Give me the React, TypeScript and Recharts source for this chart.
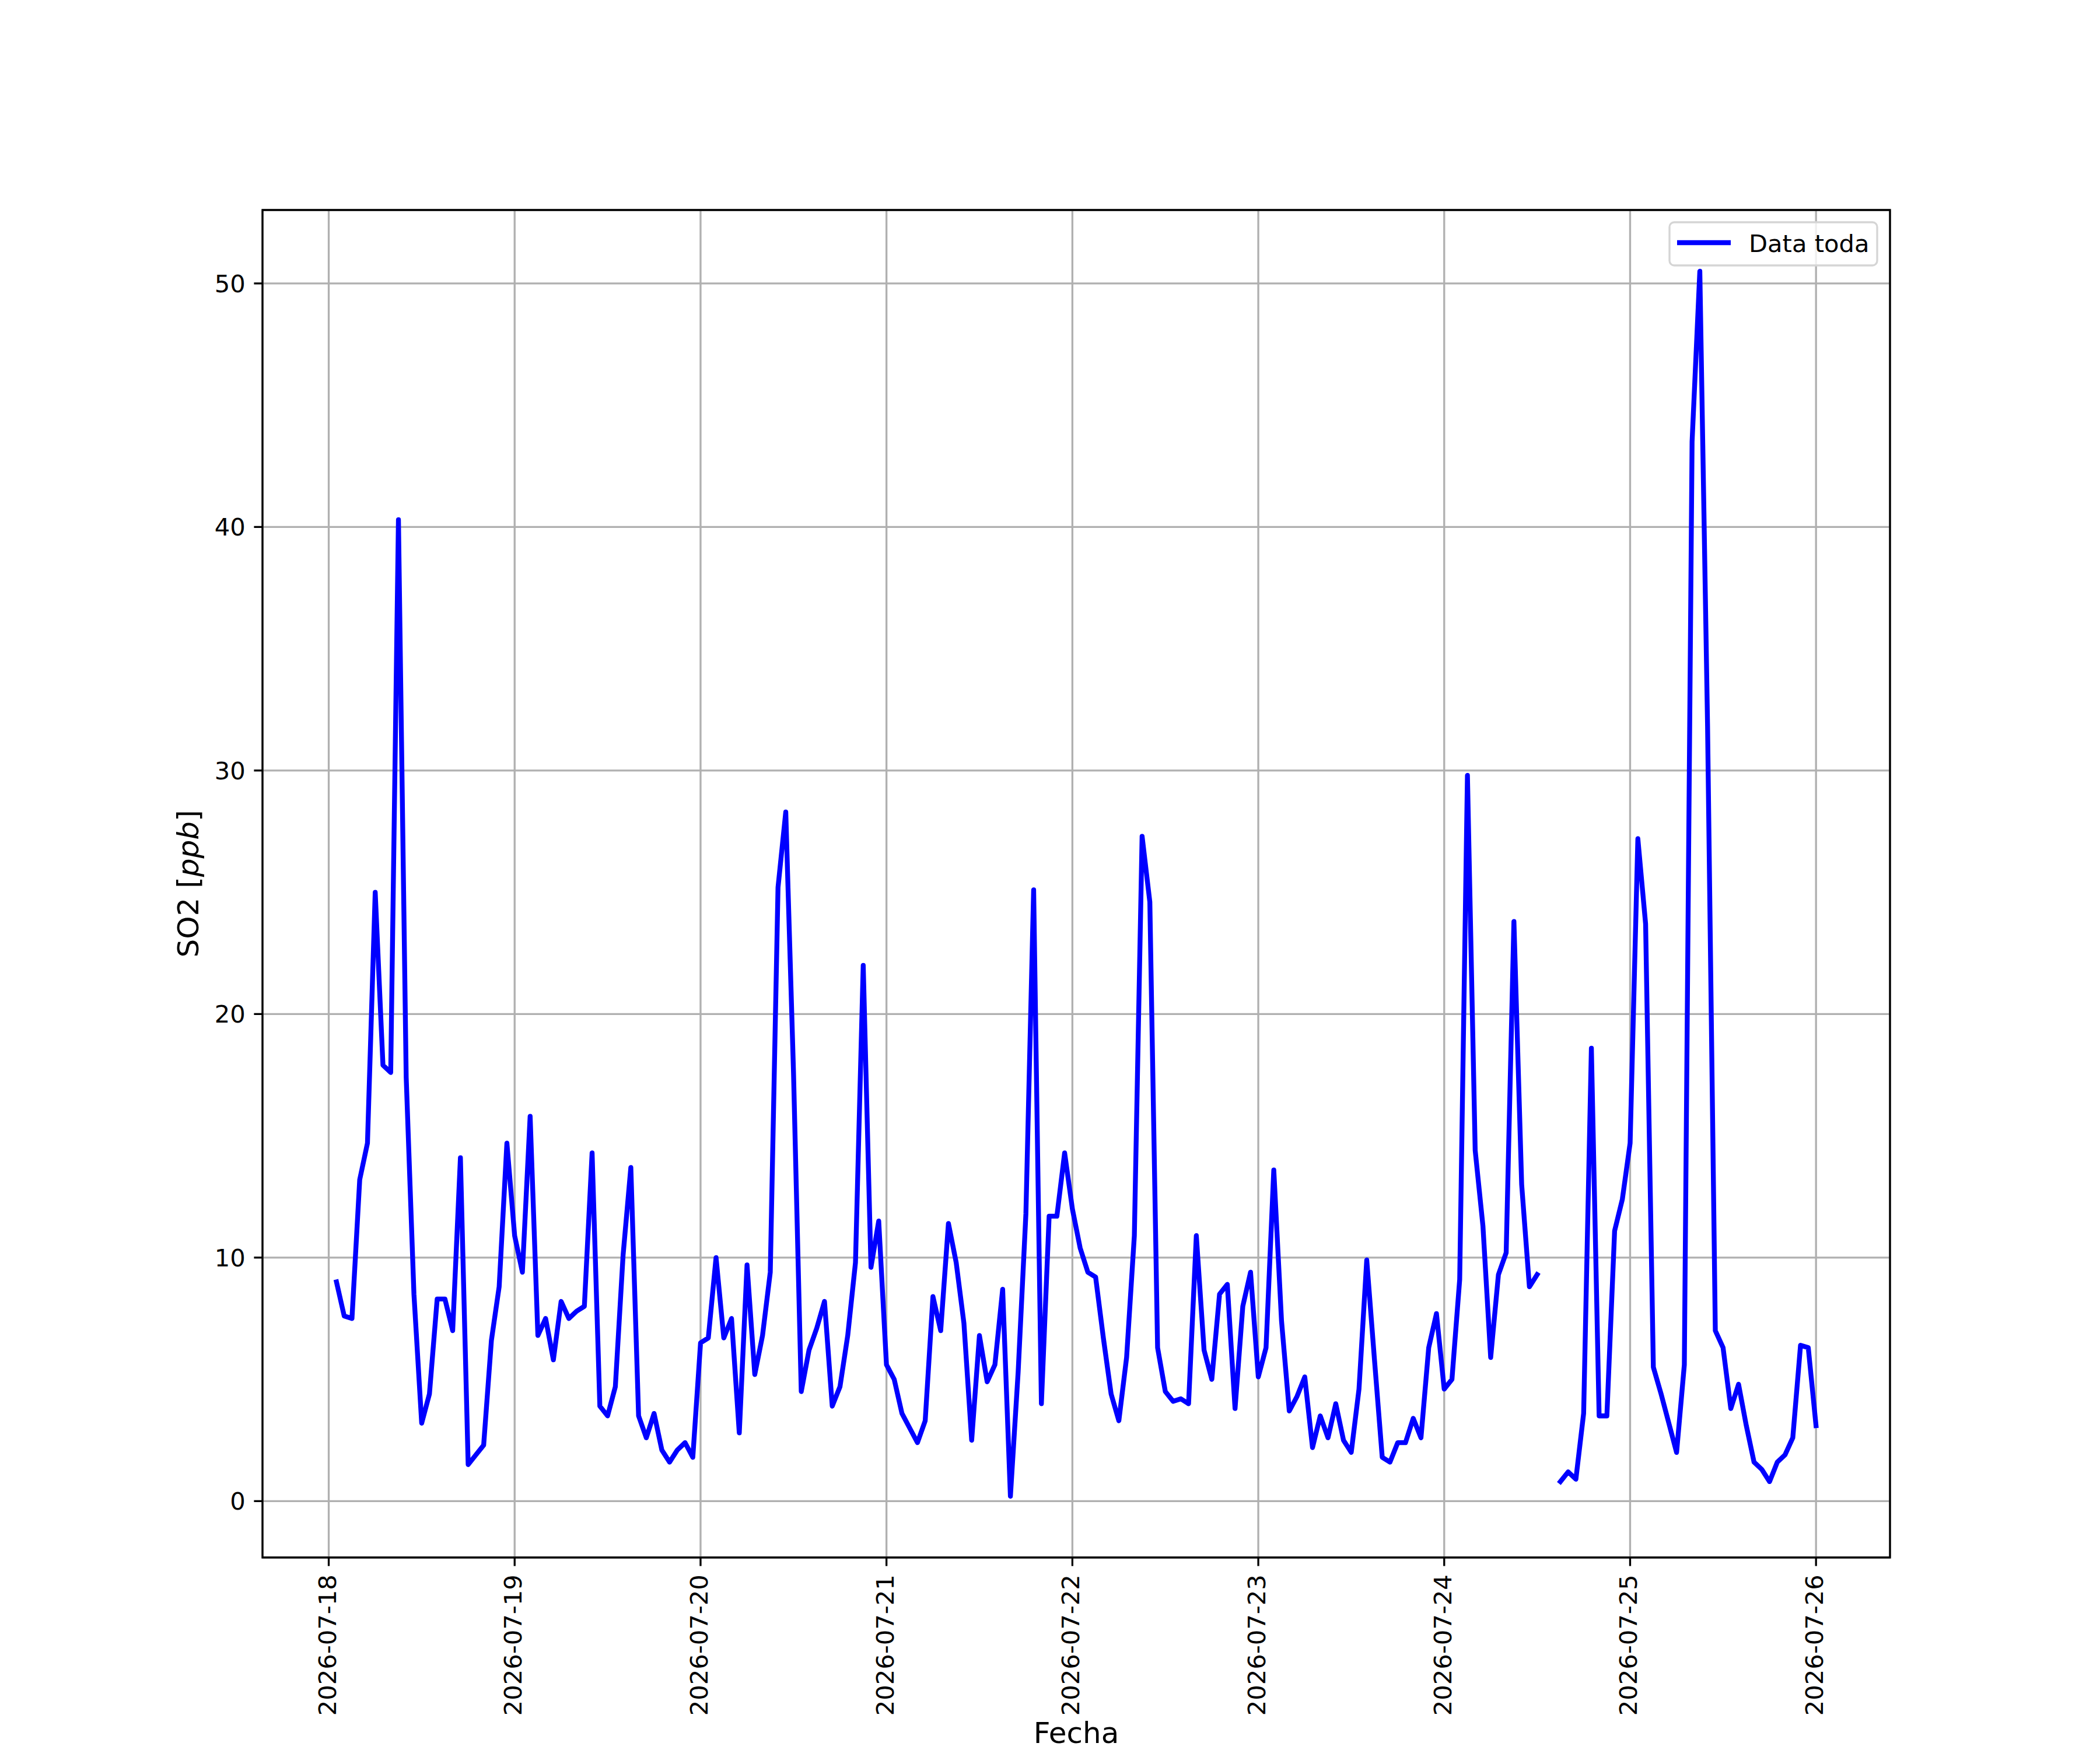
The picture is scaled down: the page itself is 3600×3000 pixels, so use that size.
import React from "react";
import {
  LineChart,
  Line,
  XAxis,
  YAxis,
  CartesianGrid,
  ReferenceArea,
  Legend,
  Label,
} from "recharts";

// Tick labels (one per day, at 00:00)
const dayLabels = [
  "2026-07-18",
  "2026-07-19",
  "2026-07-20",
  "2026-07-21",
  "2026-07-22",
  "2026-07-23",
  "2026-07-24",
  "2026-07-25",
  "2026-07-26",
];

// Hourly SO2 values [ppb]; each array holds hours 01:00 .. 24:00 (= next day 00:00)
const so2Jul18 = [9.0, 7.6, 7.5, 13.2, 14.7, 25.0, 17.9, 17.6, 40.3, 17.4, 8.5, 3.2, 4.4, 8.3, 8.3, 7.0, 14.1, 1.5, 1.9, 2.3, 6.6, 8.8, 14.7, 10.9];
const so2Jul19 = [9.4, 15.8, 6.8, 7.5, 5.8, 8.2, 7.5, 7.8, 8.0, 14.3, 3.9, 3.5, 4.7, 10.1, 13.7, 3.5, 2.6, 3.6, 2.1, 1.6, 2.1, 2.4, 1.8, 6.5];
const so2Jul20 = [6.7, 10.0, 6.7, 7.5, 2.8, 9.7, 5.2, 6.8, 9.4, 25.2, 28.3, 17.6, 4.5, 6.2, 7.1, 8.2, 3.9, 4.7, 6.8, 9.8, 22.0, 9.6, 11.5, 5.6];
const so2Jul21 = [5.0, 3.6, 3.0, 2.4, 3.3, 8.4, 7.0, 11.4, 9.8, 7.3, 2.5, 6.8, 4.9, 5.6, 8.7, 0.2, 5.3, 11.8, 25.1, 4.0, 11.7, 11.7, 14.3, 12.0];
const so2Jul22 = [10.4, 9.4, 9.2, 6.7, 4.4, 3.3, 5.9, 10.9, 27.3, 24.6, 6.3, 4.5, 4.1, 4.2, 4.0, 10.9, 6.2, 5.0, 8.5, 8.9, 3.8, 8.0, 9.4, 5.1];
const so2Jul23 = [6.3, 13.6, 7.4, 3.7, 4.3, 5.1, 2.2, 3.5, 2.6, 4.0, 2.5, 2.0, 4.6, 9.9, 5.8, 1.8, 1.6, 2.4, 2.4, 3.4, 2.6, 6.3, 7.7, 4.6];
const so2Jul24 = [5.0, 9.1, 29.8, 14.4, 11.3, 5.9, 9.3, 10.2, 23.8, 13.0, 8.8, 9.3, null, null, 0.8, 1.2, 0.9, 3.6, 18.6, 3.5, 3.5, 11.1, 12.4, 14.7];
const so2Jul25 = [27.2, 23.7, 5.5, 4.4, 3.2, 2.0, 5.6, 43.5, 50.5, 31.8, 7.0, 6.3, 3.8, 4.8, 3.1, 1.6, 1.3, 0.8, 1.6, 1.9, 2.6, 6.4, 6.3, 3.1];

const dailySeries = [so2Jul18, so2Jul19, so2Jul20, so2Jul21, so2Jul22, so2Jul23, so2Jul24, so2Jul25];

const yTicks = [0, 10, 20, 30, 40, 50];
const xTicks = dayLabels.map((_, i) => i * 24);

// hours since 2026-07-18 00:00
const data = dailySeries.flatMap((arr, d) =>
  arr.map((v, h) => ({ t: d * 24 + h + 1, v }))
);

const X_DOMAIN: [number, number] = [-8.55, 201.55];
const Y_DOMAIN: [number, number] = [-2.315, 53.015];

const FONT = "DejaVu Sans";
const TICK_FS = 41.67;
const LABEL_FS = 50;

const XTick = (props: any) => {
  const { x, y, payload } = props;
  const label = dayLabels[Math.round(payload.value / 24)];
  return (
    <text
      x={x}
      y={y}
      transform={`rotate(-90 ${x} ${y})`}
      textAnchor="end"
      dy={12}
      fontSize={TICK_FS}
      fontFamily={FONT}
      fill="#000"
    >
      {label}
    </text>
  );
};

const YTick = (props: any) => {
  const { x, y, payload } = props;
  return (
    <text
      x={x}
      y={y}
      dy={15}
      textAnchor="end"
      fontSize={TICK_FS}
      fontFamily={FONT}
      fill="#000"
    >
      {payload.value}
    </text>
  );
};

const LegendBox = () => (
  <svg width={362} height={80} style={{ display: "block" }}>
    <rect
      x={2}
      y={2}
      width={356}
      height={74}
      rx={8}
      ry={8}
      fill="#ffffff"
      fillOpacity={0.8}
      stroke="#d5d5d5"
      strokeWidth={3.3}
    />
    <line x1={15} y1={37} x2={107} y2={37} stroke="#0000ff" strokeWidth={8.33} />
    <text x={138} y={53} fontSize={TICK_FS} fontFamily={FONT} fill="#000">
      Data toda
    </text>
  </svg>
);

export default function App() {
  return (
    <div style={{ position: "absolute", left: 0, top: 0, background: "#fff" }}>
      <LineChart
        width={3600}
        height={3000}
        data={data}
        margin={{ top: 360, right: 360, left: 300, bottom: 30 }}
      >
        <CartesianGrid stroke="#b0b0b0" strokeWidth={3.33} />
        <XAxis
          dataKey="t"
          type="number"
          domain={X_DOMAIN}
          allowDataOverflow
          ticks={xTicks}
          interval={0}
          height={300}
          axisLine={false}
          tickLine={{ stroke: "#000", strokeWidth: 3.33 }}
          tickSize={14.6}
          tickMargin={14.6}
          tick={<XTick />}
        >
          <Label
            content={() => (
              <text
                x={1845}
                y={2988}
                textAnchor="middle"
                fontSize={LABEL_FS}
                fontFamily={FONT}
                fill="#000"
              >
                Fecha
              </text>
            )}
          />
        </XAxis>
        <YAxis
          type="number"
          domain={Y_DOMAIN}
          allowDataOverflow
          ticks={yTicks}
          interval={0}
          width={150}
          axisLine={false}
          tickLine={{ stroke: "#000", strokeWidth: 3.33 }}
          tickSize={14.6}
          tickMargin={14.6}
          tick={<YTick />}
        >
          <Label
            content={() => (
              <text
                x={340}
                y={1515}
                transform="rotate(-90 340 1515)"
                textAnchor="middle"
                fontSize={LABEL_FS}
                fontFamily={FONT}
                fill="#000"
              >
                SO2 [<tspan fontStyle="italic">ppb</tspan>]
              </text>
            )}
          />
        </YAxis>
        <Line
          type="linear"
          dataKey="v"
          stroke="#0000ff"
          strokeWidth={8.33}
          strokeLinejoin="round"
          strokeLinecap="square"
          dot={false}
          activeDot={false}
          connectNulls={false}
          isAnimationActive={false}
          name="Data toda"
        />
        <ReferenceArea
          x1={X_DOMAIN[0]}
          x2={X_DOMAIN[1]}
          y1={Y_DOMAIN[0]}
          y2={Y_DOMAIN[1]}
          fill="none"
          stroke="#000"
          strokeWidth={3.33}
          ifOverflow="visible"
        />
        <Legend
          layout="horizontal"
          verticalAlign="middle"
          align="center"
          content={() => <LegendBox />}
          wrapperStyle={{ left: 2860, top: 379, width: 362, height: 80 }}
        />
      </LineChart>
    </div>
  );
}
